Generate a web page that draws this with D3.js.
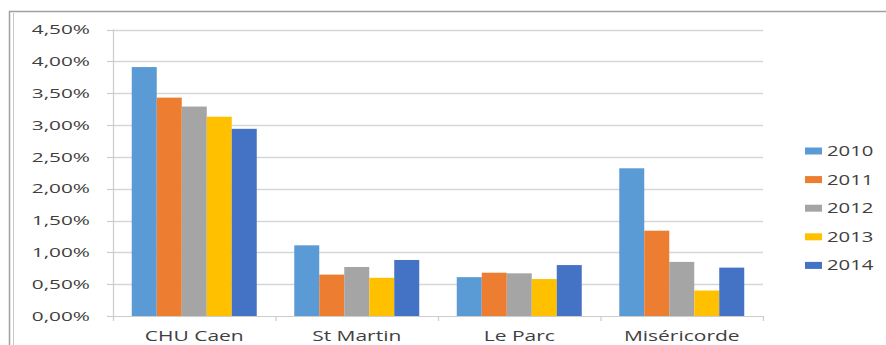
<!DOCTYPE html>
<html><head><meta charset="utf-8">
<script src="https://cdn.jsdelivr.net/npm/d3@7"></script>
<style>
html,body{margin:0;padding:0;background:#fff;}
svg{display:block;}
text{font-family:"Open Sans",sans-serif;fill:#3f3f3f;}
</style></head>
<body><div id="chart"></div>
<script>
const categories = ["CHU Caen", "St Martin", "Le Parc", "Miséricorde"];
const years = ["2010", "2011", "2012", "2013", "2014"];
const v2010 = [0.0391, 0.0111, 0.0061, 0.0232];
const v2011 = [0.0343, 0.0065, 0.0068, 0.0134];
const v2012 = [0.0329, 0.0077, 0.0067, 0.0085];
const v2013 = [0.0313, 0.0060, 0.0058, 0.0040];
const v2014 = [0.0294, 0.0088, 0.0080, 0.0076];
const seriesValues = [v2010, v2011, v2012, v2013, v2014];
const colors = ["#5B9BD5", "#ED7D31", "#A5A5A5", "#FFC000", "#4472C4"];
const yTicks = [0, 0.005, 0.01, 0.015, 0.02, 0.025, 0.03, 0.035, 0.04, 0.045];

const W = 886, H = 345;
const svg = d3.select("#chart").append("svg").attr("width", W).attr("height", H);

// outer frame
svg.append("path").attr("d", `M9.5,${H+2} V11.5 H${W+2}`).attr("fill","none").attr("stroke","#a0a0a0").attr("stroke-width",1.5);
svg.append("line").attr("x1",13.5).attr("x2",13.5).attr("y1",13).attr("y2",H+2).attr("stroke","#c8c8c8").attr("stroke-width",1);

const pLeft = 113, pRight = 763, pTop = 29.5, pBottom = 316;
const y = d3.scaleLinear().domain([0, 0.045]).range([pBottom, pTop]);
const x0 = d3.scaleBand().domain(categories).range([pLeft, pRight]).paddingInner(0.2308).paddingOuter(0.1154);
const x1 = d3.scaleBand().domain(years).range([0, x0.bandwidth()]);

const fmt = v => (v*100).toFixed(2).replace(".", ",") + "%";

// gridlines
svg.append("g").selectAll("line").data(yTicks.slice(1)).join("line")
  .attr("x1", pLeft).attr("x2", pRight)
  .attr("y1", d => Math.round(y(d))+0.5).attr("y2", d => Math.round(y(d))+0.5)
  .attr("stroke", "#d6d6d6").attr("stroke-width", 1.4);

// y axis line + ticks
svg.append("line").attr("x1", pLeft+0.5).attr("x2", pLeft+0.5).attr("y1", pTop).attr("y2", pBottom)
  .attr("stroke", "#cccccc").attr("stroke-width", 1.2);
svg.append("g").selectAll("line").data(yTicks).join("line")
  .attr("x1", pLeft-6).attr("x2", pLeft)
  .attr("y1", d => Math.round(y(d))+0.5).attr("y2", d => Math.round(y(d))+0.5)
  .attr("stroke", "#cccccc").attr("stroke-width", 1.2);

// y labels
svg.append("g").selectAll("text").data(yTicks).join("text")
  .attr("transform", d => `translate(90,${y(d)}) scale(1.6,1)`)
  .attr("text-anchor", "end").attr("dy", "0.36em")
  .style("font-size", "13px").style("font-weight", "500")
  .text(fmt);

// bars
const groups = svg.append("g").selectAll("g").data(categories).join("g")
  .attr("transform", c => `translate(${x0(c)},0)`);
groups.selectAll("rect").data((c, ci) => years.map((yr, si) => ({yr, si, v: seriesValues[si][ci]}))).join("rect")
  .attr("x", d => x1(d.yr)).attr("width", x1.bandwidth())
  .attr("y", d => y(d.v)).attr("height", d => y(0) - y(d.v))
  .attr("fill", d => colors[d.si]);

// x axis line
svg.append("line").attr("x1", pLeft).attr("x2", pRight).attr("y1", pBottom+0.5).attr("y2", pBottom+0.5)
  .attr("stroke", "#cccccc").attr("stroke-width", 1.2);
const boundaries = categories.map(c => x0(c) - (x0.step() - x0.bandwidth())/2).concat([pRight]);
svg.append("g").selectAll("line").data(boundaries).join("line")
  .attr("x1", d => d+0.5).attr("x2", d => d+0.5).attr("y1", pBottom).attr("y2", pBottom+5)
  .attr("stroke", "#cccccc").attr("stroke-width", 1.2);

// category labels
svg.append("g").selectAll("text").data(categories).join("text")
  .attr("transform", c => `translate(${x0(c) + x0.bandwidth()/2},341) scale(1.5,1)`)
  .attr("text-anchor", "middle")
  .style("font-size", "14px").style("font-weight", "500")
  .text(c => c);

// legend
const lg = svg.append("g").selectAll("g").data(years).join("g")
  .attr("transform", (d, i) => `translate(805,${151 + i*28.6})`);
lg.append("rect").attr("x", 0).attr("y", -3.5).attr("width", 17).attr("height", 7)
  .attr("fill", (d, i) => colors[i]);
lg.append("text").attr("transform", "translate(22,0) scale(1.45,1)").attr("dy", "0.36em")
  .style("font-size", "14px").style("font-weight", "500")
  .text(d => d);
</script></body></html>
